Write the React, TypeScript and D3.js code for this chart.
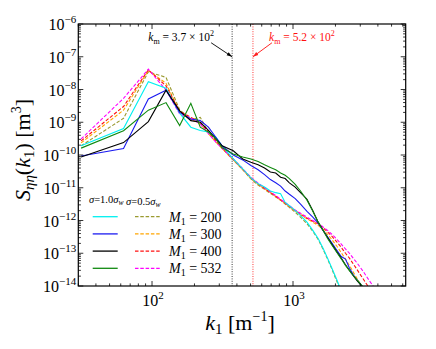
import { useEffect, useRef } from "react";
import * as d3 from "d3";

// wavenumbers k1 [1/m] (spectral bins)
const k1 = [
  31.4, 62.8, 94.2, 125.7, 157.1, 188.5, 219.9, 251.3, 282.7, 314.2,
  377.0, 439.8, 502.7, 565.5, 628.3, 691.2, 754.0, 816.8, 879.6, 942.5,
  1036.7, 1131.0, 1256.6, 1382.3, 1508.0, 1633.6, 1759.3, 1885.0,
  2042.0, 2199.1, 2356.2, 2513.3, 2670.4, 2827.4,
  3141.6, 3455.8, 3769.9, 4084.1,
];

// log10 of S_etaeta
const cyanLog = [
  -9.72, -9.19, -7.76, -7.96, -8.72, -9.15, -9.25, -9.3, -9.45, -9.72,
  -10.12, -10.42, -10.7, -10.88, -10.98, -11.1, -11.15, -11.18, -11.45, -11.55,
  -11.7, -11.85, -12.05, -12.3, -12.55, -12.85, -13.15, -13.45,
  -13.8, -14.15, -14.5, -14.8, -15, -15.2,
  -15.5, -15.8, -16, -16.2,
];
const oliveLog = [
  -9.72, -8.88, -7.46, -7.63, -8.62, -8.92, -8.85, -9.3, -9.55, -9.8,
  -10.15, -10.45, -10.73, -10.92, -11.05, -11.17, -11.28, -11.38, -11.5, -11.6,
  -11.75, -11.9, -12.1, -12.33, -12.58, -12.88, -13.18, -13.48,
  -13.85, -14.2, -14.5, -14.8, -15, -15.2,
  -15.5, -15.8, -16, -16.2,
];
const blueLog = [
  -10.03, -9.8, -8.29, -8.02, -8.7, -8.9, -8.95, -9.15, -9.45, -9.72,
  -10.0, -10.15, -10.32, -10.45, -10.6, -10.75, -10.85, -10.95, -11.1, -11.2,
  -11.33, -11.5, -11.72, -11.9, -12.08, -12.3, -12.5, -12.68,
  -12.9, -13.1, -13.18, -13.45, -13.65, -13.8,
  -14.05, -14.3, -14.6, -14.9,
];
const orangeLog = [
  -9.63, -8.63, -7.42, -7.81, -8.68, -8.9, -9.05, -9.35, -9.6, -9.8,
  -10.15, -10.45, -10.72, -10.9, -11.03, -11.15, -11.27, -11.38, -11.48, -11.58,
  -11.72, -11.83, -11.95, -12.05, -12.15, -12.28, -12.42, -12.58,
  -12.78, -12.98, -13.18, -13.37, -13.57, -13.75,
  -14.1, -14.4, -14.7, -15,
];
const blackLog = [
  -10.06, -9.62, -8.98, -8.02, -8.65, -8.95, -9.0, -9.25, -9.5, -9.72,
  -9.87, -10.12, -10.22, -10.3, -10.4, -10.52, -10.55, -10.68, -10.72, -10.85,
  -10.98, -11.15, -11.35, -11.7, -12.05, -12.3, -12.52, -12.72,
  -12.95, -13.15, -13.35, -13.52, -13.68, -13.82,
  -14.05, -14.3, -14.6, -14.9,
];
const redLog = [
  -9.57, -8.52, -7.4, -7.89, -8.66, -8.85, -9.0, -9.3, -9.55, -9.78,
  -10.13, -10.43, -10.7, -10.88, -11.02, -11.14, -11.26, -11.37, -11.47, -11.57,
  -11.7, -11.8, -11.93, -12.02, -12.1, -12.22, -12.35, -12.48,
  -12.65, -12.82, -13.0, -13.15, -13.32, -13.48,
  -13.78, -14.05, -14.35, -14.6,
];
const greenLog = [
  -9.79, -9.26, -8.63, -8.4, -9.1, -8.42, -9.15, -9.3, -9.5, -9.78,
  -9.97, -10.06, -10.12, -10.2, -10.3, -10.38, -10.45, -10.55, -10.62, -10.72,
  -10.9, -11.1, -11.38, -11.72, -12.05, -12.3, -12.55, -12.75,
  -12.97, -13.17, -13.37, -13.53, -13.68, -13.8,
  -14.03, -14.3, -14.6, -14.9,
];
const magentaLog = [
  -9.51, -8.27, -7.38, -8.02, -8.75, -8.88, -9.05, -9.35, -9.6, -9.8,
  -10.12, -10.42, -10.68, -10.86, -11.0, -11.12, -11.24, -11.35, -11.45, -11.55,
  -11.68, -11.78, -11.9, -12.0, -12.08, -12.2, -12.3, -12.42,
  -12.57, -12.72, -12.87, -13.0, -13.15, -13.28,
  -13.55, -13.82, -14.05, -14.3,
];

const m1Labels = ["200", "300", "400", "532"];
const kmValues = [370, 520];
const kmLabels = ["3.7", "5.2"];

const solidSeries = [cyanLog, blueLog, blackLog, greenLog];
const dashedSeries = [oliveLog, orangeLog, redLog, magentaLog];
const solidColors = ["#00f0f0", "#1c1cf0", "#000000", "#108a10"];
const dashedColors = ["#9a9a30", "#ffa500", "#ff1010", "#ff00ff"];

const FONT = "'Liberation Serif', 'Times New Roman', serif";

export default function App() {
  const ref = useRef<SVGSVGElement>(null);

  useEffect(() => {
    const width = 436;
    const height = 349;
    const left = 78.3, right = 405.7, top = 24, bottom = 286;

    const svg = d3.select(ref.current);
    svg.selectAll("*").remove();

    const x = d3.scaleLog().domain([30, 6300]).range([left, right]);
    const y = d3.scaleLog().domain([1e-14, 1e-6]).range([bottom, top]);

    svg.append("rect").attr("width", width).attr("height", height).attr("fill", "white");

    svg.append("clipPath").attr("id", "plotclip")
      .append("rect")
      .attr("x", left).attr("y", top)
      .attr("width", right - left).attr("height", bottom - top);

    const plot = svg.append("g").attr("clip-path", "url(#plotclip)");

    // k_m marker lines
    kmValues.forEach((km, i) => {
      plot.append("line")
        .attr("x1", x(km)).attr("x2", x(km))
        .attr("y1", top).attr("y2", bottom)
        .attr("stroke", i === 0 ? "#222" : "#ff2020")
        .attr("stroke-width", 0.9)
        .attr("stroke-dasharray", "1,1.4");
    });

    const line = d3.line<number>()
      .x((_, i) => x(k1[i]))
      .y((v) => y(Math.pow(10, v)));

    // dashed first, solid on top
    dashedSeries.forEach((vals, i) => {
      plot.append("path")
        .attr("d", line(vals))
        .attr("fill", "none")
        .attr("stroke", dashedColors[i])
        .attr("stroke-width", 1.1)
        .attr("stroke-dasharray", "3.5,1.8");
    });
    solidSeries.forEach((vals, i) => {
      plot.append("path")
        .attr("d", line(vals))
        .attr("fill", "none")
        .attr("stroke", solidColors[i])
        .attr("stroke-width", 1.1);
    });

    // frame
    svg.append("rect")
      .attr("x", left).attr("y", top)
      .attr("width", right - left).attr("height", bottom - top)
      .attr("fill", "none").attr("stroke", "#000").attr("stroke-width", 1.2);

    // ticks (inward, mirrored)
    const isMajor = (v: number) => Math.abs(Math.log10(v) - Math.round(Math.log10(v))) < 1e-6;
    const ticks = svg.append("g").attr("stroke", "#000").attr("stroke-width", 0.8);
    x.ticks().forEach((t) => {
      const len = isMajor(t) ? 5 : 2.6;
      ticks.append("line").attr("x1", x(t)).attr("x2", x(t)).attr("y1", bottom).attr("y2", bottom - len);
      ticks.append("line").attr("x1", x(t)).attr("x2", x(t)).attr("y1", top).attr("y2", top + len);
    });
    y.ticks().forEach((t) => {
      const len = isMajor(t) ? 5 : 2.6;
      ticks.append("line").attr("y1", y(t)).attr("y2", y(t)).attr("x1", left).attr("x2", left + len);
      ticks.append("line").attr("y1", y(t)).attr("y2", y(t)).attr("x1", right).attr("x2", right - len);
    });

    // tick labels
    const xMajor = x.ticks().filter(isMajor);
    xMajor.forEach((t) => {
      const tx = svg.append("text")
        .attr("x", x(t) + 1).attr("y", 306)
        .attr("text-anchor", "middle")
        .attr("font-family", FONT).attr("font-size", 16);
      tx.append("tspan").text("10");
      tx.append("tspan").attr("dy", -7).attr("font-size", 11).text(String(Math.round(Math.log10(t))));
    });
    y.ticks().filter(isMajor).forEach((t) => {
      const ty = svg.append("text")
        .attr("x", left - 2).attr("y", y(t) + 6)
        .attr("text-anchor", "end")
        .attr("font-family", FONT).attr("font-size", 16);
      ty.append("tspan").text("10");
      ty.append("tspan").attr("dy", -7).attr("font-size", 11)
        .text("\u2212" + String(Math.abs(Math.round(Math.log10(t)))));
    });

    // axis titles
    const xl = svg.append("text")
      .attr("x", 240).attr("y", 330)
      .attr("text-anchor", "middle")
      .attr("font-family", FONT).attr("font-size", 22);
    xl.append("tspan").attr("font-style", "italic").text("k");
    xl.append("tspan").attr("font-size", 15).attr("dy", 4).text("1");
    xl.append("tspan").attr("dy", -4).text(" [m");
    xl.append("tspan").attr("font-size", 14).attr("dy", -9).text("\u22121");
    xl.append("tspan").attr("dy", 9).text("]");

    const yl = svg.append("text")
      .attr("transform", "translate(30,150) rotate(-90)")
      .attr("text-anchor", "middle")
      .attr("font-family", FONT).attr("font-size", 22);
    yl.append("tspan").attr("font-style", "italic").text("S");
    yl.append("tspan").attr("font-style", "italic").attr("font-size", 15).attr("dy", 4).text("\u03b7\u03b7");
    yl.append("tspan").attr("dy", -4).text("(");
    yl.append("tspan").attr("font-style", "italic").text("k");
    yl.append("tspan").attr("font-size", 15).attr("dy", 4).text("1");
    yl.append("tspan").attr("dy", -4).text(") [m");
    yl.append("tspan").attr("font-size", 14).attr("dy", -9).text("3");
    yl.append("tspan").attr("dy", 9).text("]");

    // k_m annotations with arrows
    const defs = svg.append("defs");
    ["#000", "#ff2020"].forEach((c, i) => {
      defs.append("marker")
        .attr("id", "arr" + i)
        .attr("viewBox", "0 0 10 10")
        .attr("refX", 10).attr("refY", 5)
        .attr("markerWidth", 6).attr("markerHeight", 6)
        .attr("orient", "auto")
        .append("path").attr("d", "M0,1.5L10,5L0,8.5z").attr("fill", c);
    });
    kmValues.forEach((km, i) => {
      const color = i === 0 ? "#000" : "#ff1010";
      const tipX = x(km);
      const tipY = y(1e-7);
      const tailX = i === 0 ? tipX - 21 : tipX + 19;
      svg.append("line")
        .attr("x1", tailX).attr("y1", tipY - 14)
        .attr("x2", tipX).attr("y2", tipY)
        .attr("stroke", color).attr("stroke-width", 0.9)
        .attr("marker-end", `url(#arr${i})`);
      const tt = svg.append("text")
        .attr("x", i === 0 ? tipX - 51 : tipX + 49)
        .attr("y", 41)
        .attr("text-anchor", "middle")
        .attr("fill", color)
        .attr("font-family", FONT).attr("font-size", 11.5);
      tt.append("tspan").attr("font-style", "italic").text("k");
      tt.append("tspan").attr("font-size", 8).attr("dy", 3).text("m");
      tt.append("tspan").attr("dy", -3).text(` = ${kmLabels[i]} \u00d7 10`);
      tt.append("tspan").attr("font-size", 8).attr("dy", -5).text("2");
    });

    // legend
    const hdr = svg.append("text")
      .attr("x", 89).attr("y", 202.5)
      .attr("font-family", FONT).attr("font-size", 10.5);
    [["1.0", 0], ["0.5", 1]].forEach(([s, j]) => {
      hdr.append("tspan").attr("font-style", "italic").text((j ? " " : "") + "\u03c3");
      hdr.append("tspan").text(`=${s}`);
      hdr.append("tspan").attr("font-style", "italic").text("\u03c3");
      hdr.append("tspan").attr("font-style", "italic").attr("font-size", 7.5).attr("dy", 2).text("w");
      hdr.append("tspan").attr("dy", -2).text("");
    });

    const rowY = d3.scaleLinear().domain([0, 3]).range([216.7, 268.3]);
    m1Labels.forEach((lab, i) => {
      const ry = rowY(i);
      svg.append("line")
        .attr("x1", 92.7).attr("x2", 117.7).attr("y1", ry).attr("y2", ry)
        .attr("stroke", solidColors[i]).attr("stroke-width", 1.3);
      svg.append("line")
        .attr("x1", 135).attr("x2", 160).attr("y1", ry).attr("y2", ry)
        .attr("stroke", dashedColors[i]).attr("stroke-width", 1.3)
        .attr("stroke-dasharray", "3.5,1.8");
      const lt = svg.append("text")
        .attr("x", 169).attr("y", ry + 5)
        .attr("font-family", FONT).attr("font-size", 14);
      lt.append("tspan").attr("font-style", "italic").text("M");
      lt.append("tspan").attr("font-size", 10).attr("dy", 3).text("1");
      lt.append("tspan").attr("dy", -3).text(` = ${lab}`);
    });
  }, []);

  return (
    <svg
      ref={ref}
      width={436}
      height={349}
      style={{ position: "absolute", left: 0, top: 0 }}
    />
  );
}
